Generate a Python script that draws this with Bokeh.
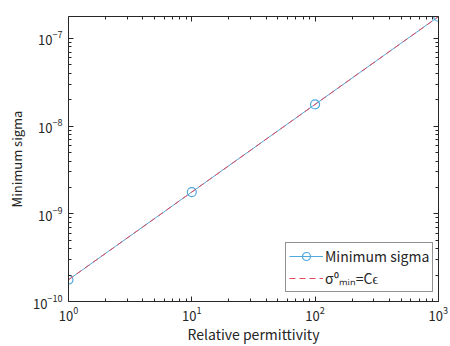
import numpy as np
from bokeh.plotting import figure
from bokeh.models import LogAxis, Legend, LegendItem, Range1d, FixedTicker
from bokeh.embed import file_html
from bokeh.resources import INLINE

permittivity = [1, 10, 100, 1000]
min_sigma = [1.77e-10, 1.77e-9, 1.77e-8, 1.77e-7]
fit_sigma = [1.77e-10, 1.77e-9, 1.77e-8, 1.77e-7]
x_ticks = [1, 10, 100, 1000]
y_ticks = [1e-10, 1e-9, 1e-8, 1e-7]

FONT = "Noto Sans CJK JP"

p = figure(width=450, height=346, x_axis_type="log", y_axis_type="log",
           output_backend="svg", toolbar_location=None,
           x_range=Range1d(1, 1003), y_range=Range1d(1e-10, 1.78e-7),
           min_border_left=68, min_border_right=12, min_border_top=16, min_border_bottom=43)
p.grid.visible = False
p.outline_line_color = None
p.background_fill_color = "white"

blue = "#4fa8de"
red = "#e3475c"

r1 = p.line(permittivity, min_sigma, line_color=blue, line_width=1)
r1b = p.scatter(permittivity, min_sigma, marker="circle", size=9, fill_color=None,
                line_color=blue, line_width=1.2)
r2 = p.line(permittivity, fit_sigma, line_color=red, line_width=1, line_dash="6 4")

x_minor = [a * b for a in [1, 10, 100] for b in range(2, 10)]
y_minor = [a * b for a in [1e-10, 1e-9, 1e-8, 1e-7] for b in range(2, 10)]

def style(ax, labels=True):
    ax.axis_line_color = "#262626"
    ax.major_tick_in = 5
    ax.major_tick_out = 0
    ax.minor_tick_in = 3
    ax.minor_tick_out = 0
    ax.major_tick_line_color = "#262626"
    ax.minor_tick_line_color = "#262626"
    ax.major_label_text_font = FONT
    ax.major_label_text_font_size = "13px"
    ax.major_label_text_color = "#262626"
    ax.axis_label_text_font = FONT
    ax.axis_label_text_font_size = "14px"
    ax.axis_label_text_font_style = "normal"
    ax.axis_label_text_color = "#262626"
    if not labels:
        ax.major_label_text_font_size = "0px"
        ax.major_label_text_alpha = 0

p.xaxis.ticker = FixedTicker(ticks=x_ticks, minor_ticks=x_minor)
p.yaxis.ticker = FixedTicker(ticks=y_ticks, minor_ticks=y_minor)
p.xaxis.axis_label = "Relative permittivity"
p.yaxis.axis_label = "Minimum sigma"
style(p.xaxis[0])
style(p.yaxis[0])
p.yaxis.axis_label_text_font_size = "13px"
p.xaxis.major_label_standoff = 5
p.xaxis.axis_label_standoff = 0
p.yaxis.major_label_standoff = 6
p.yaxis.axis_label_standoff = 4

top = LogAxis(ticker=FixedTicker(ticks=x_ticks, minor_ticks=x_minor))
right = LogAxis(ticker=FixedTicker(ticks=y_ticks, minor_ticks=y_minor))
style(top, labels=False)
style(right, labels=False)
p.add_layout(top, "above")
p.add_layout(right, "right")

legend = Legend(items=[
    LegendItem(label="Minimum sigma", renderers=[r1, r1b]),
    LegendItem(label="σ⁰ₘᵢₙ=Cϵ", renderers=[r2]),
], location=(217, 9))
legend.label_text_font = FONT
legend.label_text_font_size = "14px"
legend.label_text_color = "#262626"
legend.border_line_color = "#262626"
legend.border_line_width = 1
legend.margin = 0
legend.padding = 3
legend.spacing = 2
legend.glyph_width = 34
legend.glyph_height = 20
legend.label_height = 20
legend.label_standoff = 2
p.add_layout(legend)

open("out.html", "w").write(file_html(p, INLINE))
